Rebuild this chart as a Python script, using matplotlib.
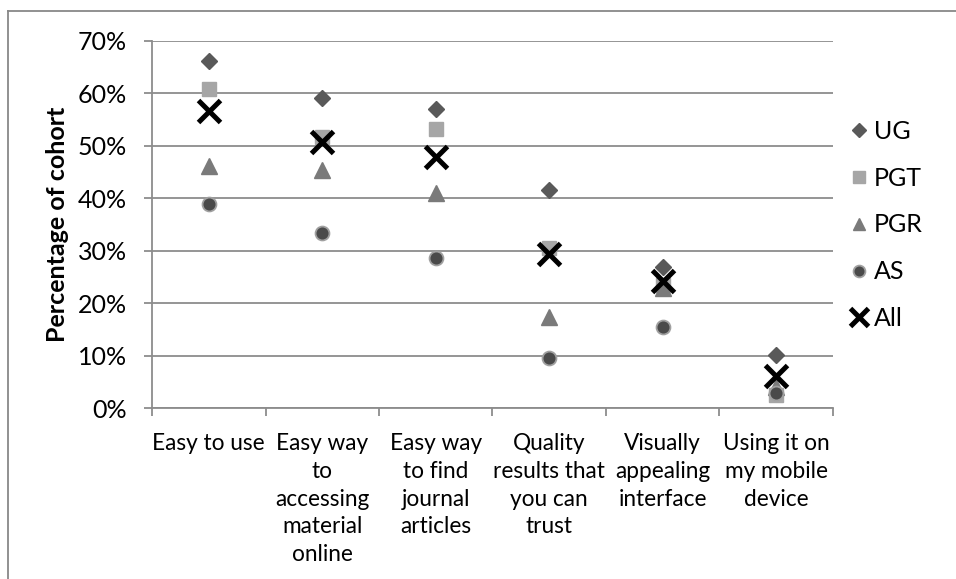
import numpy as np
import matplotlib
matplotlib.use("Agg")
import matplotlib.pyplot as plt
import matplotlib.ticker as plt_tick
from matplotlib.lines import Line2D

plt.rcParams['font.family'] = ['Lato', 'DejaVu Sans']

categories = ["Easy to use", "Easy way\nto\naccessing\nmaterial\nonline",
              "Easy way\nto find\njournal\narticles", "Quality\nresults that\nyou can\ntrust",
              "Visually\nappealing\ninterface", "Using it on\nmy mobile\ndevice"]

# percentages
ug = [66.2, 59.2, 57.0, 41.6, 26.8, 10.1]
pgt = [60.8, 51.6, 53.2, 30.5, 23.5, 2.5]
pgr = [46.2, 45.3, 41.1, 17.4, 22.8, 4.0]
as_ = [39.0, 33.4, 28.7, 9.6, 15.4, 2.9]
all_ = [56.7, 50.7, 47.9, 29.4, 24.2, 6.1]

fs = 18
fs_cat = 16.3
grid_col = "#8c8c8c"

fig = plt.figure(figsize=(9.56, 5.79), dpi=100)
ax = fig.add_axes([152/956, 1 - 408/579, (833-152)/956, (408-41)/579])

x = np.arange(len(categories))
ax.plot(x, ug, ls='none', marker='D', ms=8.5, color='#595959', label='UG', zorder=3)
ax.plot(x, pgt, ls='none', marker='s', ms=9.5, color='#a6a6a6', label='PGT', zorder=4)
ax.plot(x, pgr, ls='none', marker='^', ms=11, color='#7a7a7a', label='PGR', zorder=5)
ax.plot(x, as_, ls='none', marker='o', ms=10, color='#4a4a4a', mec='#a0a0a0', mew=1.3,
        label='AS', zorder=6)
ax.plot(x, all_, ls='none', marker='x', ms=16, color='black', mew=3.6, label='All', zorder=7)

ax.set_xlim(-0.5, len(categories) - 0.5)
ax.set_ylim(0, 70)
ax.yaxis.set_major_locator(plt_tick.MultipleLocator(10))
ax.yaxis.set_major_formatter(plt_tick.FuncFormatter(lambda v, p: "%d%%" % v))
ax.grid(True, axis='y', color=grid_col, lw=1.3)
ax.set_axisbelow(True)

ax.set_xticks(x)
ax.set_xticklabels(categories, fontsize=fs_cat, linespacing=1.4, va='top')
ax.set_xticks(np.arange(len(categories) + 1) - 0.5, minor=True)
ax.tick_params(axis='x', which='major', length=0, pad=18)
ax.tick_params(axis='x', which='minor', length=6, width=1.3, color=grid_col, direction='out')
ax.tick_params(axis='y', length=6, width=1.3, color=grid_col, pad=12, labelsize=fs)

for side in ['top', 'right']:
    ax.spines[side].set_visible(False)
for side in ['left', 'bottom']:
    ax.spines[side].set_color(grid_col)
    ax.spines[side].set_linewidth(1.3)

ax.set_ylabel("Percentage of cohort", fontsize=fs, fontweight='bold', labelpad=6)

ax.legend(loc='center left', bbox_to_anchor=(850/956, 1 - 225/579), bbox_transform=fig.transFigure,
          frameon=False, fontsize=fs, handlelength=0.7, handletextpad=0.25, labelspacing=0.95,
          borderaxespad=0, borderpad=0, markerscale=0.85)

# chart border
fig.add_artist(Line2D([8/956, 8/956], [0, 1 - 11/579], transform=fig.transFigure, color='#888888', lw=1.3))
fig.add_artist(Line2D([8/956, 1], [1 - 11/579, 1 - 11/579], transform=fig.transFigure, color='#888888', lw=1.3))

fig.savefig("out.png", dpi=100)
